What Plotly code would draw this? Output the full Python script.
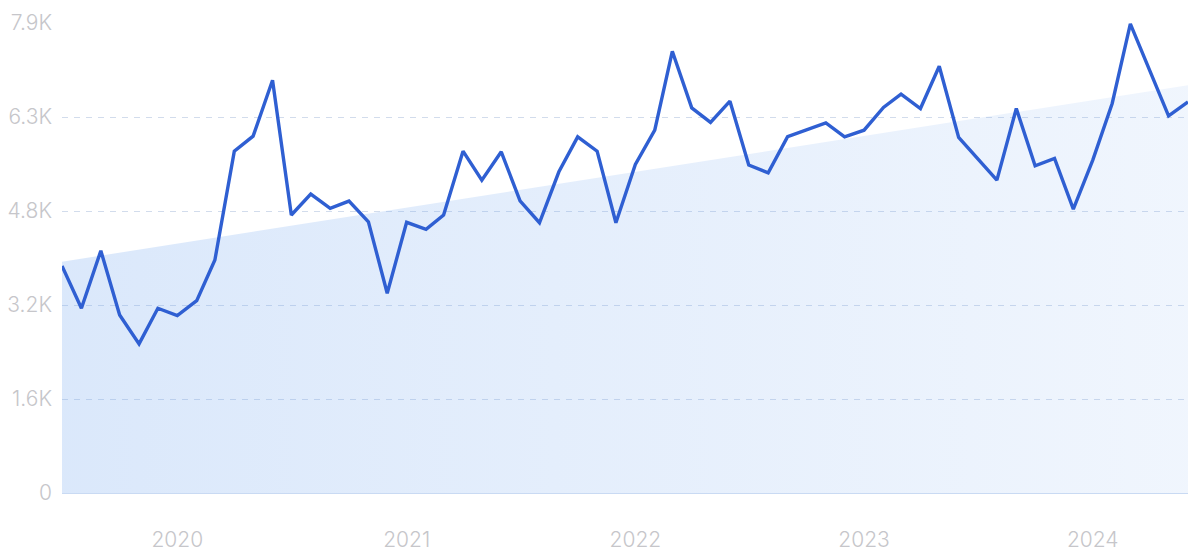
import plotly.graph_objects as go
import pandas as pd

# ---- data ----
dates = pd.date_range("2019-07-01", "2024-06-01", freq="MS")
searches = [
    3828, 3115, 4085, 3003, 2514, 3115,
    2991, 3243, 3929, 5764, 6017, 6960, 4687, 5040, 4799, 4922, 4574, 3368,
    4564, 4446, 4687, 5764, 5276, 5753, 4927, 4557, 5416, 6005, 5764, 4557,
    5540, 6118, 7448, 6494, 6248, 6606, 5529, 5399, 6009, 6130, 6241, 6005,
    6118, 6500, 6724, 6483, 7196, 5995, 5641, 5276, 6483, 5517, 5641, 4788,
    5613, 6568, 7910, 7128, 6359, 6595,
]
trend_dates = ["2019-07-01", "2024-06-01"]
trend_values = [3900, 6876]
y_tickvals = [0, 1585, 3170, 4755, 6340, 7925]
y_ticktext = ["0", "1.6K", "3.2K", "4.8K", "6.3K", "7.9K"]
x_tickvals = ["2020-01-01", "2021-01-01", "2022-01-01", "2023-01-01", "2024-01-01"]
x_ticktext = ["2020", "2021", "2022", "2023", "2024"]

fig = go.Figure()

fig.add_trace(go.Scatter(
    x=trend_dates, y=trend_values, mode="lines",
    line=dict(width=0, color="rgba(0,0,0,0)"),
    fill="tozeroy",
    fillgradient=dict(type="horizontal",
                      colorscale=[[0, "rgba(120,170,240,0.27)"],
                                  [1, "rgba(120,170,240,0.11)"]]),
    hoverinfo="skip", showlegend=False,
))

fig.add_trace(go.Scatter(
    x=dates, y=searches, mode="lines",
    line=dict(color="#2f5fd2", width=3.4),
    showlegend=False,
))

font_family = "Inter, Lato, sans-serif"
# the page body adds an 8px offset, so margins are shifted to compensate
fig.update_layout(
    width=1200, height=559,
    margin=dict(l=54, r=20, t=15, b=74, autoexpand=False),
    paper_bgcolor="white", plot_bgcolor="white",
    showlegend=False,
    font=dict(family=font_family, color="#c6c6ca"),
)
fig.update_xaxes(
    type="date",
    range=["2019-07-01", "2024-06-01"],
    tickvals=x_tickvals, ticktext=x_ticktext,
    tickfont=dict(size=21, color="#c6c6ca", family=font_family, weight=300),
    showgrid=False, zeroline=False,
    showline=True, linecolor="#c9daf3", linewidth=1,
    ticks="", ticklabelstandoff=28, automargin=False,
)
fig.update_yaxes(
    range=[0, 7925],
    tickvals=y_tickvals, ticktext=y_ticktext,
    tickfont=dict(size=21, color="#c6c6ca", family=font_family, weight=300),
    showgrid=True, gridcolor="#d2dcec", gridwidth=1, griddash="6px,6px",
    zeroline=False, showline=False, ticks="", ticklabelstandoff=9,
    automargin=False,
)

fig.write_html("out.html")
